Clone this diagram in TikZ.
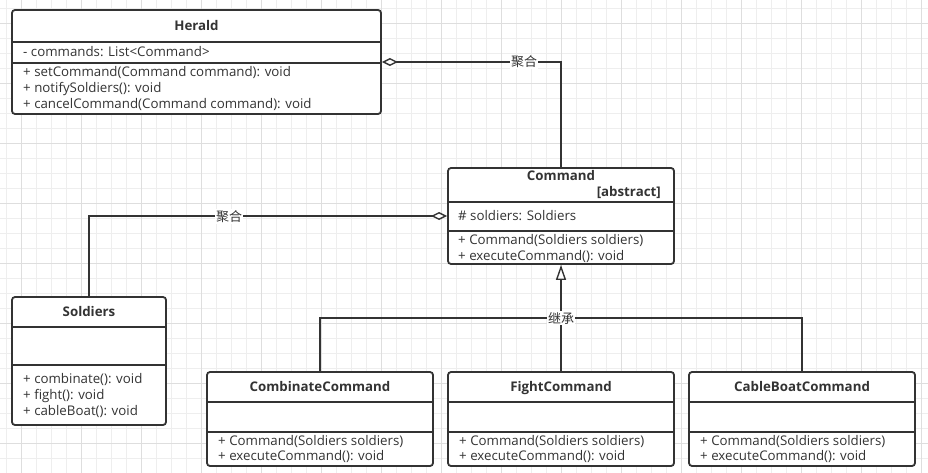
\documentclass[tikz,border=0pt]{standalone}
\usepackage{fontspec}
\setmainfont{Open Sans}
\newfontfamily\cjk{Noto Sans CJK SC}
\usetikzlibrary{arrows.meta}
\definecolor{ink}{HTML}{333333}
\definecolor{gridminor}{HTML}{EEEEEE}
\definecolor{gridmajor}{HTML}{DEDEDE}

\begin{document}
\begin{tikzpicture}[x=1pt,y=-1pt,
  classbox/.style={draw=ink, line width=1.8pt, rounded corners=3pt, fill=white, inner sep=0pt},
  title/.style={font=\fontsize{13.3}{15}\selectfont\bfseries, text=ink, inner sep=0pt, anchor=base, yshift=-4.6pt},
  member/.style={font=\fontsize{13.3}{15}\selectfont, text=ink, anchor=base west, inner sep=0pt, yshift=-4.6pt},
  divider/.style={draw=ink, line width=1.8pt},
  link/.style={draw=ink, line width=1.8pt},
  aggr/.style={link, -{Diamond[open, fill=white, length=16pt, width=8pt, line width=1.4pt]}},
  inherit/.style={link, -{Triangle[open, fill=white, length=15pt, width=10pt, line width=1.4pt]}},
  lbl/.style={font=\fontsize{13}{15}\selectfont\cjk, text=ink, fill=white, inner sep=1pt}
]
% canvas and background grid
\useasboundingbox (0,0) rectangle (928,473);
\fill[white] (0,0) rectangle (928,473);
\foreach \x in {6.7,21.7,...,928} \draw[gridminor, line width=1pt] (\x,0) -- (\x,473);
\foreach \y in {8.3,23.3,...,473} \draw[gridminor, line width=1pt] (0,\y) -- (928,\y);
\foreach \x in {21.7,81.7,...,928} \draw[gridmajor, line width=1pt] (\x,0) -- (\x,473);
\foreach \y in {23.3,83.3,...,473} \draw[gridmajor, line width=1pt] (0,\y) -- (928,\y);

% ---------- Herald ----------
\node[classbox, minimum width=369pt, minimum height=104pt] (herald) at (196.5,62) {};
\draw[divider] (12,41.7) -- (381,41.7);
\draw[divider] (12,62.7) -- (381,62.7);
\node[title] (heraldT) at (196.5,25.5) {Herald};
\node[member] (heraldA) at (23,52) {- commands: List<Command>};
\node[member] (heraldM1) at (23,72) {+ setCommand(Command command): void};
\node[member] (heraldM2) at (23,88) {+ notifySoldiers(): void};
\node[member] (heraldM3) at (23,104) {+ cancelCommand(Command command): void};

% ---------- Command ----------
\node[classbox, minimum width=226pt, minimum height=96pt] (command) at (561,216) {};
\draw[divider] (448,201.7) -- (674,201.7);
\draw[divider] (448,230.7) -- (674,230.7);
\node[title] (commandT) at (561,176) {Command};
\node[title, anchor=base east] (commandS) at (661,192) {[abstract]};
\node[member] (commandA) at (458,216) {\# soldiers: Soldiers};
\node[member] (commandM1) at (458,240) {+ Command(Soldiers soldiers)};
\node[member] (commandM2) at (458,255.5) {+ executeCommand(): void};

% ---------- Soldiers ----------
\node[classbox, minimum width=154pt, minimum height=128pt] (soldiers) at (89,361) {};
\draw[divider] (12,326.7) -- (166,326.7);
\draw[divider] (12,365) -- (166,365);
\node[title] (soldiersT) at (89,312) {Soldiers};
\node[member] (soldiersM1) at (23,378.5) {+ combinate(): void};
\node[member] (soldiersM2) at (23,394.5) {+ fight(): void};
\node[member] (soldiersM3) at (23,410.5) {+ cableBoat(): void};

% ---------- concrete commands ----------
\foreach \nm/\cx/\ttl in {combinate/320/CombinateCommand, fight/561/FightCommand, cableboat/802/CableBoatCommand}{
  \node[classbox, minimum width=226pt, minimum height=94pt] (\nm) at (\cx,419) {};
  \draw[divider] (\cx-113,401.7) -- (\cx+113,401.7);
  \draw[divider] (\cx-113,431.7) -- (\cx+113,431.7);
  \node[title] (\nm T) at (\cx,387) {\ttl};
  \node[member] (\nm M1) at (\cx-102,440.5) {+ Command(Soldiers soldiers)};
  \node[member] (\nm M2) at (\cx-102,456) {+ executeCommand(): void};
}

% ---------- relations ----------
\draw[aggr] (command.north) |- (herald.east);
\node[lbl] (aggrA) at (524,62) {聚合};

\draw[aggr] (soldiers.north) |- (command.west);
\node[lbl] (aggrB) at (229,216.5) {聚合};

\coordinate (bus) at (561,318);
\draw[link] (combinate.north) |- (bus) -| (cableboat.north);
\draw[inherit] (fight.north) -- (command.south);
\node[lbl] (inh) at (bus) {继承};
\end{tikzpicture}
\end{document}
